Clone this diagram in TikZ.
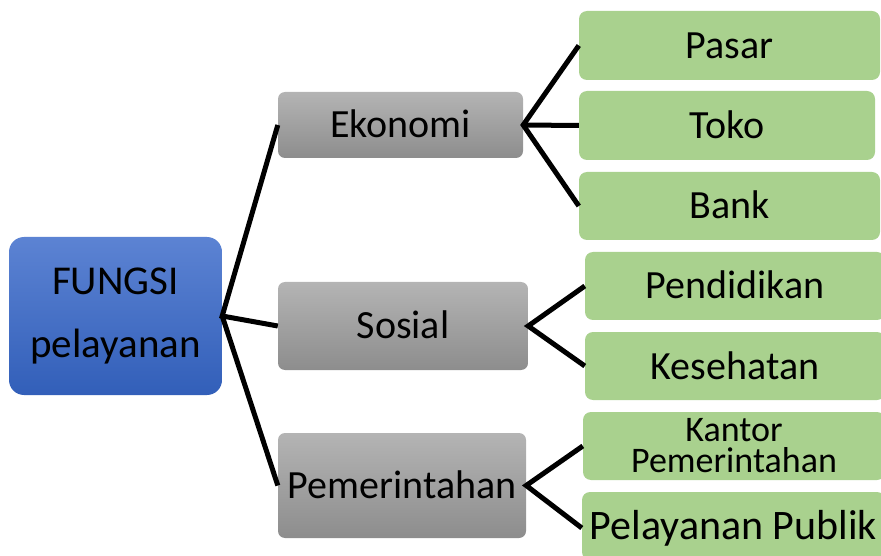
\documentclass[tikz,border=0pt]{standalone}
\usepackage{fontspec}
\setmainfont{Carlito}
\usepackage{tikz}
\usepackage{xcolor}
\definecolor{birutop}{HTML}{5C83D3}
\definecolor{birubawah}{HTML}{325FB9}
\definecolor{abutop}{HTML}{B4B4B4}
\definecolor{abubawah}{HTML}{8D8D8D}
\definecolor{hijau}{HTML}{A9D18E}

\begin{document}
\begin{tikzpicture}[x=1pt,y=1pt,
    pusat/.style={rounded corners=15pt,top color=birutop,bottom color=birubawah,inner sep=0pt,align=center,font=\fontsize{41}{63}\selectfont},
    bidang/.style={rounded corners=7pt,top color=abutop,bottom color=abubawah,inner sep=0pt,font=\fontsize{40}{48}\selectfont,text height=30pt,text depth=4pt},
    contoh/.style={rounded corners=8pt,fill=hijau,inner sep=0pt,font=\fontsize{40}{48}\selectfont,text height=30pt,text depth=4pt},
    garis/.style={line width=5pt}]
    \clip (0,0) rectangle (881,555);
    % kotak utama
    \node[pusat,minimum width=213pt,minimum height=158pt] (fungsi) at (115.5,239) {FUNGSI\\pelayanan};
    % bidang
    \node[bidang,minimum width=245pt,minimum height=66pt] (ekonomi) at (400.5,430) {Ekonomi};
    \node[bidang,minimum width=250pt,minimum height=88pt] (sosial) at (403,229) {Sosial};
    \node[bidang,minimum width=248pt,minimum height=105pt] (pemerintahan) at (402,69.5) {Pemerintahan};
    % contoh
    \node[contoh,minimum width=301pt,minimum height=69pt] (pasar) at (729.5,509.5) {Pasar};
    \node[contoh,minimum width=296pt,minimum height=69pt] (toko) at (727,429.5) {Toko};
    \node[contoh,minimum width=301pt,minimum height=68pt] (bank) at (729.5,349) {Bank};
    \node[contoh,minimum width=300pt,minimum height=68pt] (pendidikan) at (735,269) {Pendidikan};
    \node[contoh,minimum width=300pt,minimum height=68pt] (kesehatan) at (735,189) {Kesehatan};
    \node[contoh,minimum width=302pt,minimum height=68pt,align=center,font=\fontsize{36}{31}\selectfont,text height=,text depth=] (kantor) at (734,109) {Kantor\\Pemerintahan};
    \node[contoh,minimum width=303pt,minimum height=68pt,font=\fontsize{42}{50}\selectfont] (publik) at (733.5,29) {Pelayanan Publik};
    % garis
    \draw[garis] (ekonomi.west) -- (fungsi.east) -- (sosial.west);
    \draw[garis] (fungsi.east) -- (pemerintahan.west);
    \draw[garis] (pasar.west) -- (ekonomi.east) -- (bank.west);
    \draw[garis] (ekonomi.east) -- (toko.west);
    \draw[garis] (pendidikan.west) -- (sosial.east) -- (kesehatan.west);
    \draw[garis] (kantor.west) -- (pemerintahan.east) -- ([yshift=-2pt]publik.west);
\end{tikzpicture}
\end{document}
